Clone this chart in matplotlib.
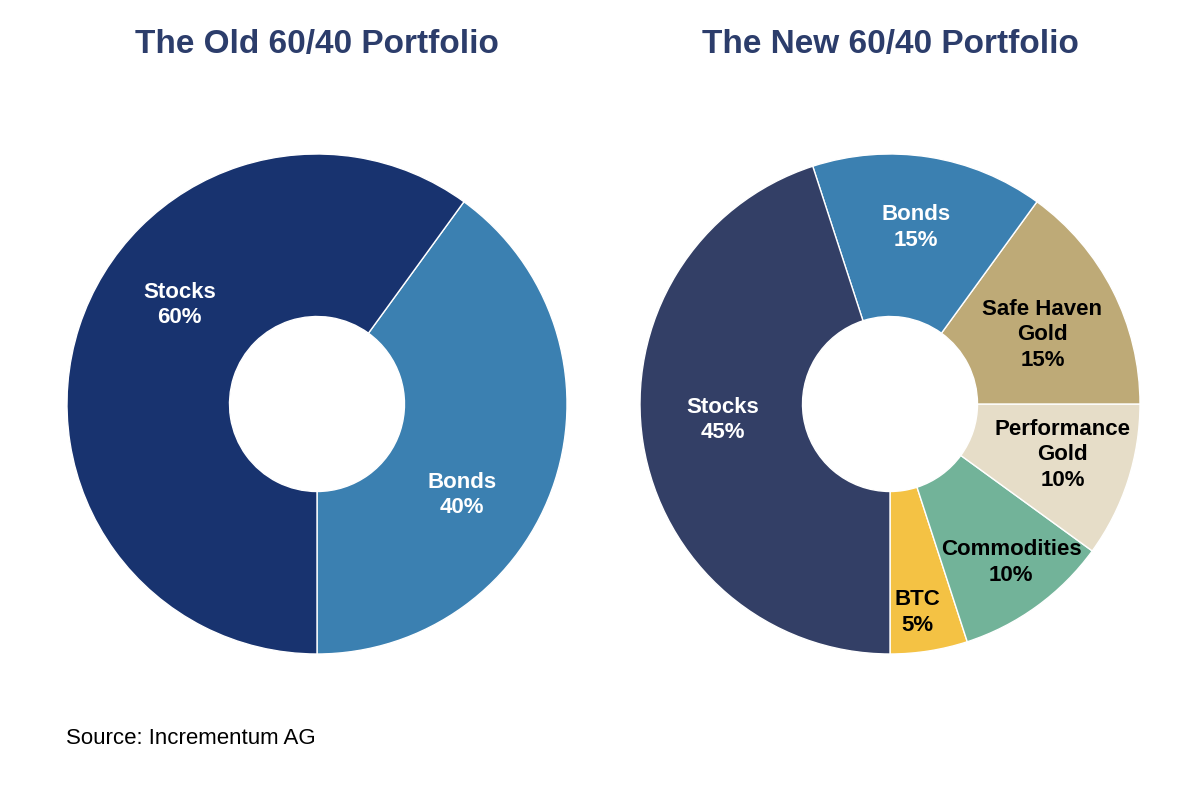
import matplotlib

matplotlib.use("Agg")
import matplotlib.pyplot as plt

plt.rcParams["font.family"] = ["Liberation Sans", "DejaVu Sans"]

# data
old_labels = ["Bonds", "Stocks"]
old_values = [40, 60]
old_colors = ["#3B80B1", "#18336F"]

new_labels = ["BTC", "Commodities", "Performance\nGold", "Safe Haven\nGold", "Bonds", "Stocks"]
new_values = [5, 10, 10, 15, 15, 45]
new_colors = ["#F4C244", "#72B399", "#E6DDC8", "#BEAA77", "#3B80B1", "#333F66"]

TITLE_COLOR = "#2C3D6B"
W, H = 1199, 804
R = 250


def donut(cx, cy, values, labels, colors, label_pos, text_colors, title):
    ax = plt.gcf().add_axes([(cx - R) / W, (H - cy - R) / H, 2 * R / W, 2 * R / H])
    ax.pie(
        values,
        colors=colors,
        startangle=-90,
        counterclock=True,
        radius=1.0,
        wedgeprops=dict(width=0.65, edgecolor="white", linewidth=1.0),
    )
    ax.set_xlim(-1, 1)
    ax.set_ylim(-1, 1)
    ax.set_aspect("equal")
    ax.axis("off")
    for lab, val, (x, y), tc in zip(labels, values, label_pos, text_colors):
        ax.text(x, y, f"{lab}\n{val}%", ha="center", va="center", color=tc,
                fontsize=16, fontweight="bold", linespacing=1.3)
    plt.gcf().text(cx / W, 1 - 44 / H, title, ha="center", va="center",
                   fontsize=24, fontweight="bold", color=TITLE_COLOR)


fig = plt.figure(figsize=(11.99, 8.04), dpi=100)

donut(317, 405, old_values, old_labels, old_colors,
      [(0.58, -0.36), (-0.55, 0.40)], ["white", "white"],
      "The Old 60/40 Portfolio")

donut(890, 405, new_values, new_labels, new_colors,
      [(0.108, -0.83), (0.485, -0.63), (0.69, -0.20), (0.61, 0.28), (0.105, 0.71), (-0.67, -0.06)],
      ["black", "black", "black", "black", "white", "white"],
      "The New 60/40 Portfolio")

fig.text(66 / W, 1 - 739 / H, "Source: Incrementum AG", ha="left", va="center",
         fontsize=16, color="black")

fig.savefig("out.png", dpi=100, facecolor="white")
